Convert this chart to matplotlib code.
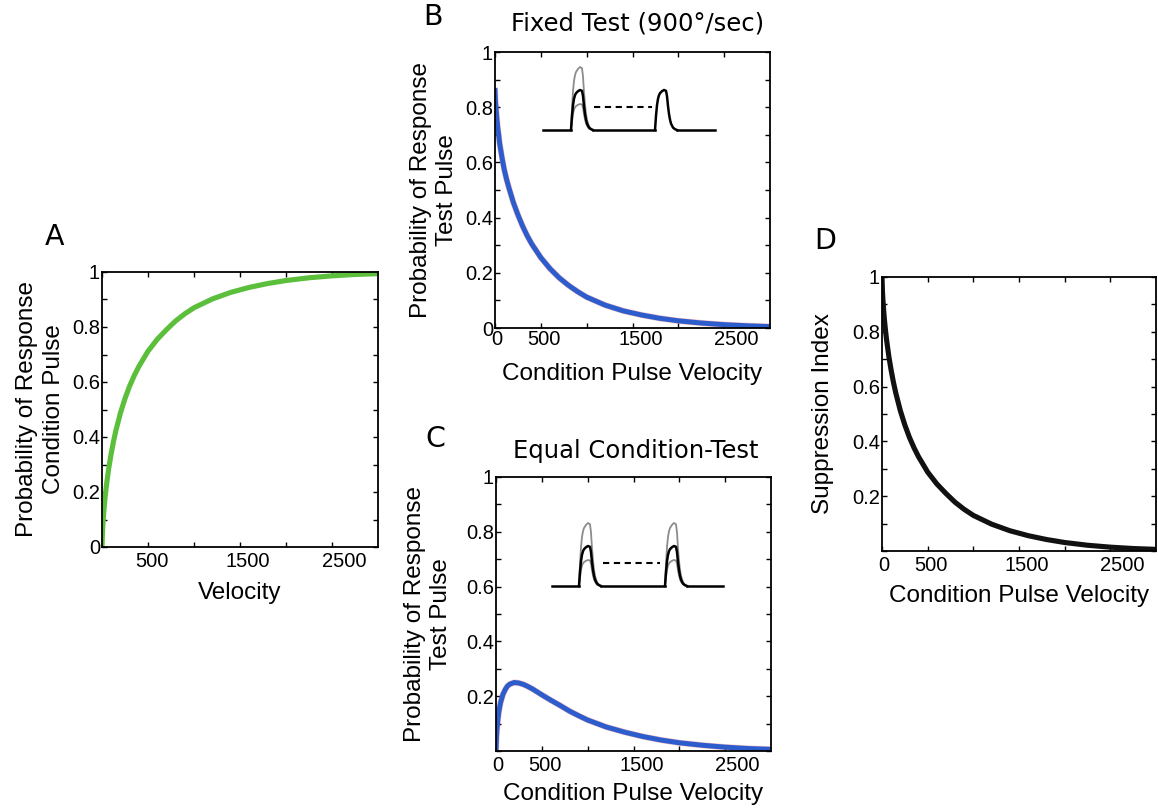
import matplotlib
matplotlib.use('Agg')
import matplotlib.pyplot as plt
from matplotlib.transforms import ScaledTranslation

plt.rcParams['font.family'] = ['Liberation Sans', 'DejaVu Sans']

# ---------------- data ----------------
velocity = [0, 5, 10, 20, 30, 40, 50, 75, 100, 125, 150, 200, 250, 300, 350, 400,
            500, 600, 700, 800, 900, 1000, 1200, 1400, 1600, 1800, 2000, 2250, 2500,
            2750, 3000]
cond_response = [0, 0.053, 0.083, 0.130, 0.168, 0.200, 0.229, 0.290, 0.340, 0.384,
                 0.422, 0.487, 0.540, 0.585, 0.623, 0.656, 0.712, 0.755, 0.790, 0.822,
                 0.848, 0.870, 0.902, 0.926, 0.944, 0.958, 0.969, 0.979, 0.986, 0.991,
                 0.994]
fixed_test = [0.86, 0.82, 0.80, 0.76, 0.725, 0.70, 0.67, 0.62, 0.575, 0.54, 0.51,
              0.455, 0.41, 0.37, 0.335, 0.305, 0.255, 0.215, 0.182, 0.155, 0.132,
              0.112, 0.083, 0.062, 0.047, 0.035, 0.026, 0.018, 0.012, 0.008, 0.005]
equal_test = [0, 0.050, 0.076, 0.113, 0.140, 0.160, 0.177, 0.206, 0.224, 0.237, 0.244,
              0.250, 0.248, 0.243, 0.235, 0.226, 0.205, 0.185, 0.166, 0.146, 0.129,
              0.113, 0.088, 0.069, 0.053, 0.040, 0.030, 0.021, 0.014, 0.009, 0.006]
suppression = [1.0, 0.947, 0.917, 0.870, 0.832, 0.800, 0.771, 0.710, 0.660, 0.616,
               0.578, 0.513, 0.460, 0.415, 0.377, 0.344, 0.288, 0.245, 0.210, 0.178,
               0.152, 0.130, 0.098, 0.074, 0.056, 0.042, 0.031, 0.021, 0.014, 0.009,
               0.006]

x_ticks = [0, 500, 1000, 1500, 2000, 2500]
x_labels_a = ['', '500', '', '1500', '', '2500']
x_labels = ['0', '500', '', '1500', '', '2500']
y_ticks = [0, 0.1, 0.2, 0.3, 0.4, 0.5, 0.6, 0.7, 0.8, 0.9, 1.0]
y_labels_full = ['0', '', '0.2', '', '0.4', '', '0.6', '', '0.8', '', '1']
y_labels_no0 = ['', '', '0.2', '', '0.4', '', '0.6', '', '0.8', '', '1']

# schematic pulse shape (time in px, normalised level)
pulse_time = [0, 1, 2, 3, 4, 5, 7, 9, 11, 12, 13, 14, 15, 16, 18, 20, 22]
pulse_level = [0, 0.35, 0.62, 0.78, 0.87, 0.92, 0.97, 1.0, 0.98, 0.85, 0.6, 0.4,
               0.26, 0.16, 0.06, 0.02, 0]
pulse_amps = [63, 40, 26]   # gray high, black, gray low

# ---------------- layout ----------------
W, H = 1158, 810
fig = plt.figure(figsize=(W / 100, H / 100), dpi=100)
fig.patch.set_facecolor('white')


def px_axes(l, r, t, b):
    return fig.add_axes([l / W, 1 - b / H, (r - l) / W, (b - t) / H])


def style(ax, xl, yl, xpad=3.5):
    ax.set_xlim(0, 3000)
    ax.set_ylim(0, 1)
    ax.set_xticks(x_ticks)
    ax.set_xticklabels(xl)
    ax.set_yticks(y_ticks)
    ax.set_yticklabels(yl)
    ax.tick_params(direction='in', length=3.5, width=1.0, top=True, right=True,
                   labelsize=14.5, colors='black')
    ax.tick_params(axis='x', pad=xpad)
    ax.tick_params(axis='y', pad=1.5)
    for s in ax.spines.values():
        s.set_linewidth(1.3)
    for lab, v in zip(ax.get_xticklabels(), x_ticks):
        dx = (1.5 + 0.0042 * v) / 100.0
        lab.set_transform(lab.get_transform() + ScaledTranslation(dx, 0, fig.dpi_scale_trans))


LABEL_FS = 17.5
TITLE_FS = 17.5
LETTER_FS = 20.5
LSP = 1.25

# Panel A
axA = px_axes(102, 378, 272, 547)
axA.plot(velocity, cond_response, color='#5cbf3c', lw=3.7, solid_capstyle='butt')
style(axA, x_labels_a, y_labels_full)
axA.set_ylabel('Probability of Response\nCondition Pulse', fontsize=LABEL_FS, linespacing=LSP)
axA.yaxis.set_label_coords(-0.135, 0.5)
axA.set_xlabel('Velocity', fontsize=LABEL_FS, va='top')
axA.xaxis.set_label_coords(0.5, -0.128)

# Panel B
axB = px_axes(495, 770, 52, 328)
axB.plot(velocity, fixed_test, color='#e05050', lw=4.4, alpha=0.35)
axB.plot(velocity, fixed_test, color='#2d5ccc', lw=3.6)
style(axB, x_labels, y_labels_full, xpad=1.5)
axB.set_ylabel('Probability of Response\nTest Pulse', fontsize=LABEL_FS, linespacing=LSP)
axB.yaxis.set_label_coords(-0.135, 0.5)
axB.set_xlabel('Condition Pulse Velocity', fontsize=LABEL_FS, va='top')
axB.xaxis.set_label_coords(0.5, -0.125)

# Panel C
axC = px_axes(496, 771, 477, 751)
axC.plot(velocity, equal_test, color='#e05050', lw=4.4, alpha=0.35)
axC.plot(velocity, equal_test, color='#2d5ccc', lw=3.6)
style(axC, x_labels, y_labels_no0)
axC.set_ylabel('Probability of Response\nTest Pulse', fontsize=LABEL_FS, linespacing=LSP)
axC.yaxis.set_label_coords(-0.16, 0.5)
axC.set_xlabel('Condition Pulse Velocity', fontsize=LABEL_FS, va='top')
axC.xaxis.set_label_coords(0.5, -0.115)

# Panel D
axD = px_axes(882, 1156, 277, 551)
axD.plot(velocity, suppression, color='#111111', lw=3.7)
style(axD, x_labels, y_labels_no0)
axD.set_ylabel('Suppression Index', fontsize=LABEL_FS)
axD.yaxis.set_label_coords(-0.175, 0.5)
axD.set_xlabel('Condition Pulse Velocity', fontsize=LABEL_FS, va='top')
axD.xaxis.set_label_coords(0.5, -0.125)


# schematic insets
def pulse_inset(l, r, t, b, base_y, x0, x1, p1, p2, dash_y, d0, d1, second_gray):
    ax = px_axes(l, r, t, b)
    ax.set_xlim(0, r - l)
    ax.set_ylim(0, b - t)
    ax.axis('off')
    ax.patch.set_alpha(0)
    gray = '#8c8c8c'
    for start, with_gray in ((p1, True), (p2, second_gray)):
        xs = [start + tt for tt in pulse_time]
        if with_gray:
            for amp in (pulse_amps[0], pulse_amps[2]):
                ax.plot(xs, [base_y + amp * lv for lv in pulse_level], color=gray, lw=1.3)
        ax.plot(xs, [base_y + pulse_amps[1] * lv for lv in pulse_level], color='black', lw=1.8)
    end1 = p1 + pulse_time[-1]
    end2 = p2 + pulse_time[-1]
    ax.plot([x0, p1], [base_y, base_y], color='black', lw=1.8)
    ax.plot([end1, p2], [base_y, base_y], color='black', lw=1.8)
    ax.plot([end2, x1], [base_y, base_y], color='black', lw=1.8)
    ax.plot([d0, d1], [dash_y, dash_y], color='black', lw=1.5, ls=(0, (3, 2.2)))


pulse_inset(540, 720, 55, 135, 5, 3, 175, 31, 115, 28, 54, 112, False)
pulse_inset(545, 730, 515, 595, 9, 7, 178, 34, 120, 32, 58, 115, True)

# titles and panel letters
fig.text(638 / W, 1 - 31 / H, 'Fixed Test (900°/sec)', fontsize=TITLE_FS,
         ha='center', va='baseline', family='DejaVu Sans')
fig.text(636 / W, 1 - 458 / H, 'Equal Condition-Test', fontsize=TITLE_FS,
         ha='center', va='baseline', family='DejaVu Sans')
for letter, x, y in (('A', 55, 245), ('B', 433, 25), ('C', 435, 447), ('D', 825, 249)):
    fig.text(x / W, 1 - y / H, letter, fontsize=LETTER_FS, ha='center', va='baseline',
             family='DejaVu Sans')

fig.savefig('out.png', dpi=100, facecolor='white')
